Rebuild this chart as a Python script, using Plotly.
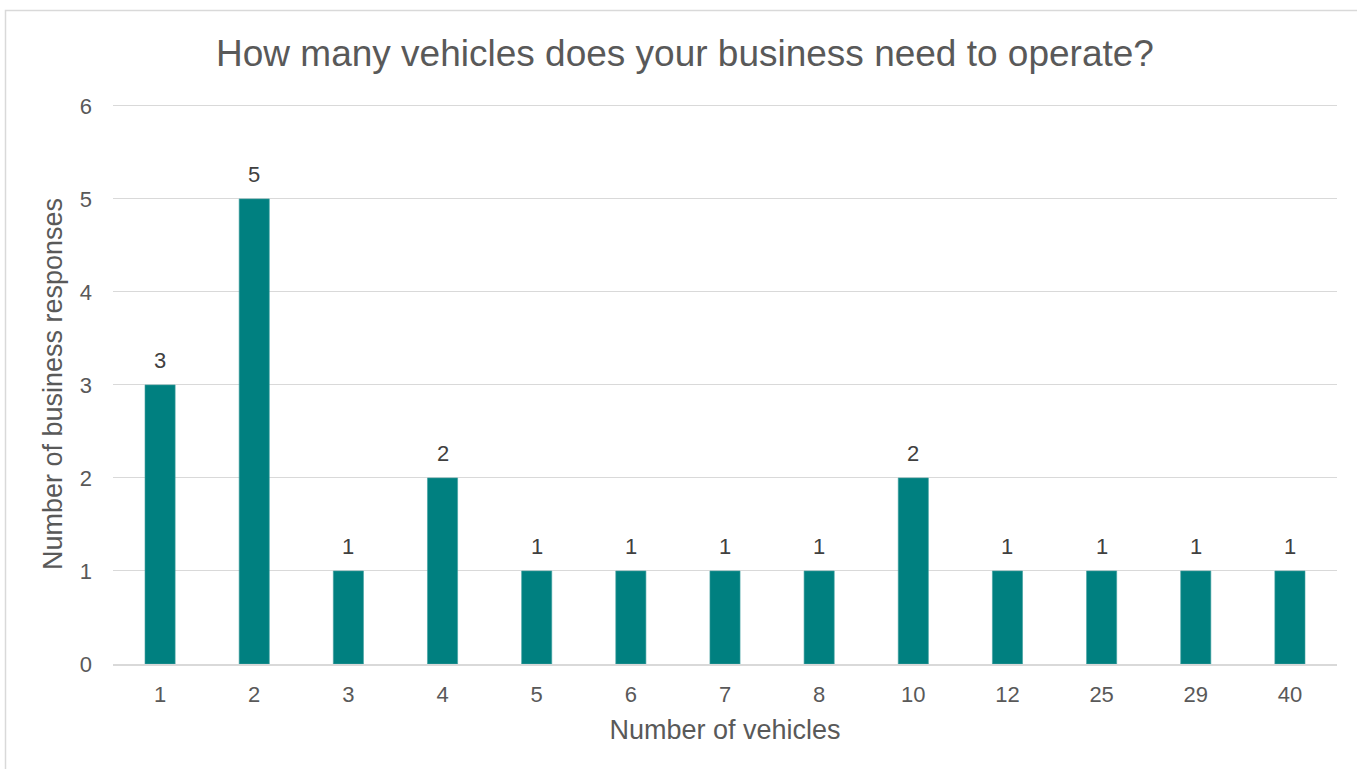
import plotly.graph_objects as go

# Survey responses: vehicles needed per business
vehicles = ["1", "2", "3", "4", "5", "6", "7", "8", "10", "12", "25", "29", "40"]
responses = [3, 5, 1, 2, 1, 1, 1, 1, 2, 1, 1, 1, 1]
y_ticks = [0, 1, 2, 3, 4, 5, 6]

W, H = 1357, 769
ML, MR, MT, MB = 113, 20, 104, 105
plot_w = W - ML - MR
plot_h = H - MT - MB

text_col = "#595959"
label_col = "#404040"
grid_col = "#d9d9d9"
font = "Liberation Sans, Arial, sans-serif"

fig = go.Figure(
    go.Bar(
        x=vehicles,
        y=responses,
        marker=dict(color="#008080", line=dict(color="#3f9f9f", width=0.6)),
        width=0.32,
        hoverinfo="x+y",
    )
)

# value labels above each bar (category axis is addressed by position index)
for idx, val in enumerate(responses):
    fig.add_annotation(
        x=idx, y=val, text=str(val), showarrow=False,
        yanchor="bottom", yshift=10,
        font=dict(size=22, color=label_col, family=font),
    )

# outer chart-area frame
fig.add_shape(
    type="rect", xref="paper", yref="paper",
    x0=(5.5 - ML) / plot_w, x1=(W + 20 - ML) / plot_w,
    y0=-(MB + 20) / plot_h, y1=(H - MB - 10.5) / plot_h,
    line=dict(color=grid_col, width=1.5), fillcolor="rgba(0,0,0,0)", layer="below",
)

fig.update_layout(
    width=W, height=H,
    margin=dict(l=ML, r=MR, t=MT, b=MB),
    paper_bgcolor="white", plot_bgcolor="white",
    showlegend=False,
    font=dict(family=font, color=text_col),
    title=dict(
        text="How many vehicles does your business need to operate?",
        x=685 / W, xref="container", xanchor="center",
        y=1 - 53 / H, yanchor="middle",
        font=dict(size=37, color=text_col, family=font),
    ),
    xaxis=dict(
        type="category",
        categoryorder="array", categoryarray=vehicles,
        range=[-0.5, len(vehicles) - 0.5],
        showgrid=False,
        showline=True, linecolor=grid_col, linewidth=1.5,
        ticks="", ticklabelstandoff=10,
        tickfont=dict(size=22, color=text_col),
        title=dict(text="Number of vehicles", font=dict(size=27, color=text_col), standoff=14),
    ),
    yaxis=dict(
        range=[0, 6.02],
        tickvals=y_ticks,
        showgrid=True, gridcolor=grid_col, gridwidth=1.2,
        zeroline=False, showline=False, ticks="",
        ticklabelstandoff=20,
        tickfont=dict(size=22, color=text_col),
        title=dict(text="Number of business responses", font=dict(size=27, color=text_col), standoff=9),
    ),
    bargap=0.68,
)

fig.write_html("out.html")
